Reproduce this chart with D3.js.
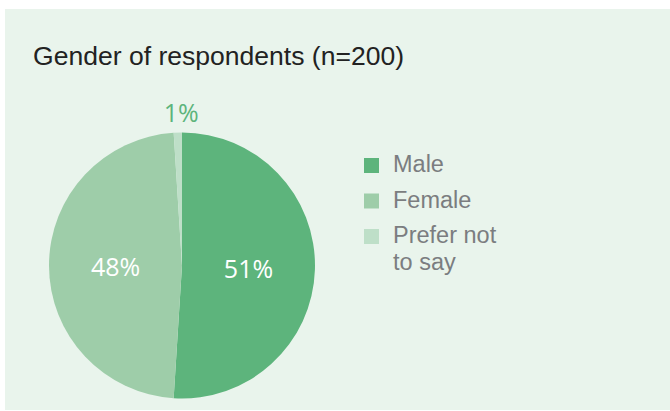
<!DOCTYPE html>
<html lang="en">
<head>
    <meta charset="UTF-8">
    <title>Gender of respondents</title>
    <script src="https://d3js.org/d3.v7.min.js"></script>
    <style>
        body { margin: 0; background: #ffffff; }
        svg { display: block; }
    </style>
</head>
<body>
<svg id="main" width="670" height="411"></svg>

<script>
    // data (counts out of n=200)
    const categories = ['Male', 'Female', 'Prefer not to say'];
    const legendLines = [['Male'], ['Female'], ['Prefer not', 'to say']];
    const counts = [102, 96, 2];
    const pctLabels = ['51%', '48%', '1%'];

    const colors = ['#5db47c', '#9ecda9', '#bedfc8'];

    let svg = d3.select('svg#main');

    // panel
    svg.append('rect')
        .attr('x', 5).attr('y', 9)
        .attr('width', 665).attr('height', 401)
        .attr('fill', '#e9f4ec');

    svg.append('text')
        .attr('x', 33).attr('y', 65)
        .attr('font-family', 'Liberation Sans, Arial, sans-serif')
        .attr('font-size', 25)
        .attr('textLength', 371)
        .attr('lengthAdjust', 'spacingAndGlyphs')
        .attr('fill', '#222222')
        .text('Gender of respondents (n=200)');

    const cx = 182, cy = 265.5, r = 133;

    let pie = d3.pie().sort(null).value(d => d.value);
    let slices = pie(categories.map((c, i) => ({ name: c, value: counts[i], label: pctLabels[i] })));

    let arc = d3.arc().innerRadius(0).outerRadius(r);
    let outerArc = d3.arc().innerRadius(r + 21).outerRadius(r + 21);

    let g = svg.append('g').attr('transform', `translate(${cx},${cy})`);

    g.selectAll('path')
        .data(slices)
        .enter()
        .append('path')
        .attr('d', arc)
        .attr('fill', (d, i) => colors[i]);

    g.selectAll('text.pct')
        .data(slices)
        .enter()
        .append('text')
        .attr('class', 'pct')
        .attr('transform', d => {
            let small = d.data.value / 200 < 0.05;
            let p = small ? outerArc.centroid(d) : arc.centroid(d);
            return `translate(${p[0] + (small ? 4 : 0)},${p[1] + 1})`;
        })
        .attr('text-anchor', 'middle')
        .attr('dy', '0.36em')
        .attr('font-family', 'Open Sans, sans-serif')
        .attr('font-size', 25)
        .attr('fill', d => d.data.value / 200 < 0.05 ? colors[0] : '#ffffff')
        .text(d => d.data.label);

    // legend
    let legend = svg.append('g').attr('transform', 'translate(364,158)');
    let rows = legend.selectAll('g')
        .data(legendLines)
        .enter()
        .append('g')
        .attr('transform', (d, i) => `translate(0,${i * 35.5})`);

    rows.append('rect')
        .attr('width', 15).attr('height', 15)
        .attr('fill', (d, i) => colors[i]);

    rows.append('text')
        .attr('x', 29)
        .attr('y', 14)
        .attr('font-family', 'Liberation Sans, Arial, sans-serif')
        .attr('font-size', 23.5)
        .attr('fill', '#7b7d80')
        .selectAll('tspan')
        .data(d => d)
        .enter()
        .append('tspan')
        .attr('x', 29)
        .attr('dy', (d, i) => i === 0 ? 0 : 27)
        .text(d => d);
</script>
</body>
</html>
